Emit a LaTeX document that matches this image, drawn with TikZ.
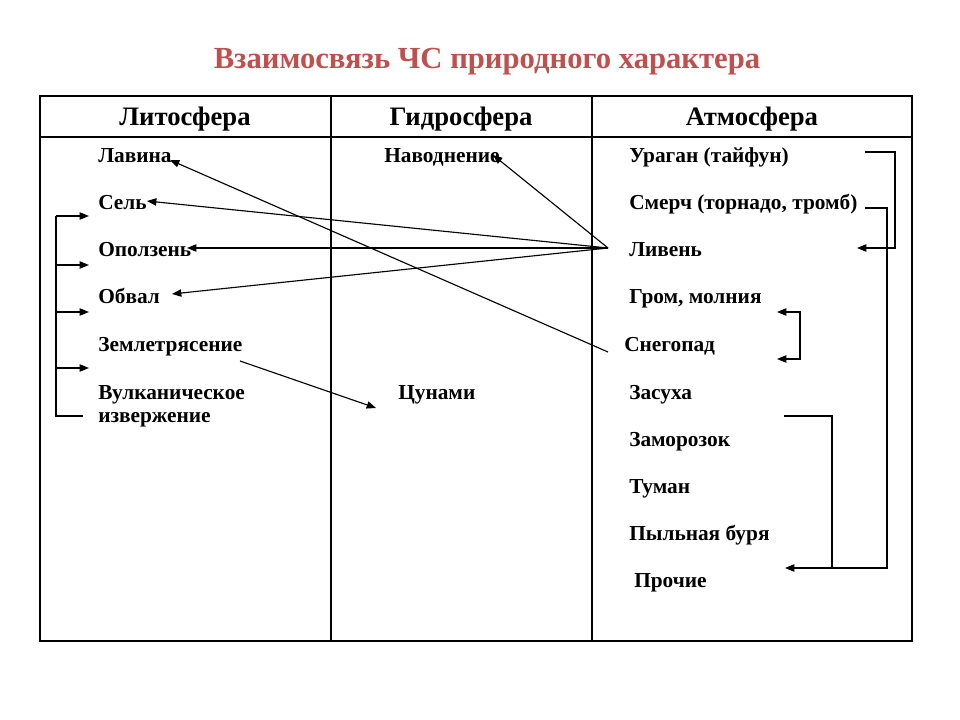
\documentclass[tikz,border=0pt]{standalone}
\usepackage{fontspec}
\setmainfont{Liberation Serif}
\usetikzlibrary{arrows.meta}
\definecolor{titlered}{RGB}{192,80,77}
\begin{document}
\begin{tikzpicture}[x=0.75pt,y=-0.75pt,
  item/.style={anchor=base west,inner sep=0pt,font=\fontsize{16}{18}\selectfont\bfseries},
  head/.style={anchor=base,inner sep=0pt,font=\fontsize{20}{22}\selectfont\bfseries},
  conn/.style={line width=0.85pt,-{Triangle[length=7pt,width=5.5pt]}},
  plain/.style={line width=0.85pt},
  grid/.style={line width=1.1pt}]
\useasboundingbox[fill=white] (0,0) rectangle (960,720);
% title
\node[anchor=base,inner sep=0pt,text=titlered,font=\fontsize{23}{27}\selectfont\bfseries] (title) at (487,69) {Взаимосвязь ЧС природного характера};
% table
\draw[grid] (40,96) rectangle (912,641);
\draw[grid] (40,137) -- (912,137);
\draw[grid] (331,96) -- (331,641);
\draw[grid] (592,96) -- (592,641);
\node[head] (h1) at (185,126) {Литосфера};
\node[head] (h2) at (461,126) {Гидросфера};
\node[head] (h3) at (752,126) {Атмосфера};
% left column
\node[item] (lav) at (98,163) {Лавина};
\node[item] (sel) at (98,210) {Сель};
\node[item] (opo) at (98,257) {Оползень};
\node[item] (obv) at (98,304) {Обвал};
\node[item] (zem) at (98,351) {Землетрясение};
\node[item] (vul) at (98,399) {Вулканическое};
\node[item] (izv) at (98,422) {извержение};
% middle column
\node[item] (nav) at (384,163) {Наводнение};
\node[item] (cun) at (398,399) {Цунами};
% right column
\node[item] (ura) at (629,163) {Ураган (тайфун)};
\node[item] (sme) at (629,210) {Смерч (торнадо, тромб)};
\node[item] (liv) at (629,257) {Ливень};
\node[item] (gro) at (629,304) {Гром, молния};
\node[item] (sne) at (624,351) {Снегопад};
\node[item] (zas) at (629,399) {Засуха};
\node[item] (zam) at (629,446) {Заморозок};
\node[item] (tum) at (629,493) {Туман};
\node[item] (pyl) at (629,540) {Пыльная буря};
\node[item] (pro) at (634,587) {Прочие};
% connector points
\coordinate (hub) at (608,248);
\coordinate (sneL) at (608,352);
\coordinate (lavT) at (170,160);
\coordinate (selT) at (147,201);
\coordinate (opoT) at (187,248);
\coordinate (obvT) at (172,294);
\coordinate (navT) at (493,155);
\coordinate (zemS) at (240,361);
\coordinate (cunT) at (376,408);
% hub arrows
\draw[conn] (hub) -- (navT);
\draw[conn] (hub) -- (selT);
\draw[conn] (hub) -- (opoT);
\draw[conn] (hub) -- (obvT);
\draw[conn] (sneL) -- (lavT);
\draw[conn] (zemS) -- (cunT);
% left bracket
\coordinate (lb) at (56,416);
\coordinate (lbe) at (83,416);
\draw[plain] (lbe) -- (lb) -- (56,216);
\foreach \yy in {216,265,312,368} \draw[conn] (56,\yy) -- (89,\yy);
% right brackets
\coordinate (uraS) at (865,152);
\coordinate (livT) at (857,248);
\draw[conn] (uraS) -- (895,152) -- (895,248) -- (livT);
\coordinate (smeS) at (865,208);
\coordinate (proT) at (785,568);
\draw[conn] (smeS) -- (887,208) -- (887,568) -- (proT);
\coordinate (zasS) at (784,416);
\draw[plain] (zasS) -- (832,416) -- (832,568);
\coordinate (groT) at (777,312);
\coordinate (sneT) at (777,359);
\draw[conn] (800,335) |- (groT);
\draw[conn] (800,335) |- (sneT);
\end{tikzpicture}
\end{document}
